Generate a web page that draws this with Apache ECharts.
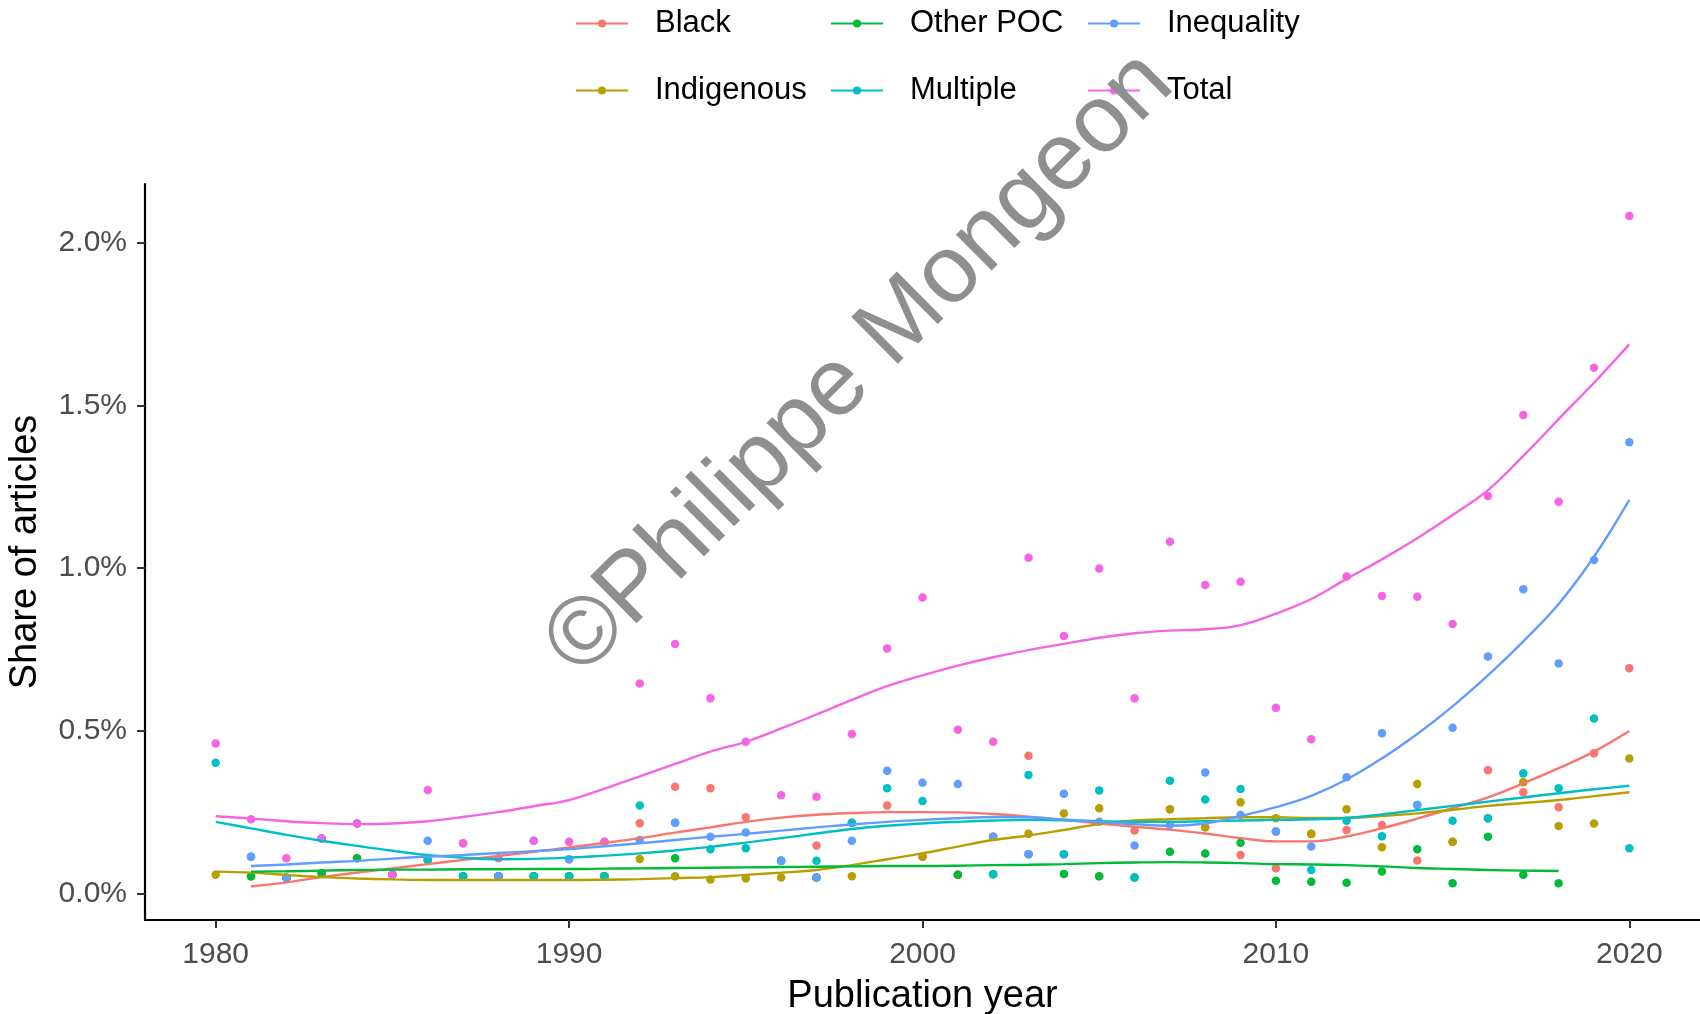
<!DOCTYPE html>
<html><head><meta charset="utf-8">
<script src="https://cdn.jsdelivr.net/npm/echarts@6/dist/echarts.min.js"></script>
<style>html,body{margin:0;padding:0;background:#fff}#c{width:1700px;height:1014px}</style>
</head><body><div id="c"></div>
<script>
// Share of articles (%) by publication year
const years = [1980,1981,1982,1983,1984,1985,1986,1987,1988,1989,1990,1991,1992,1993,1994,1995,1996,1997,1998,1999,2000,2001,2002,2003,2004,2005,2006,2007,2008,2009,2010,2011,2012,2013,2014,2015,2016,2017,2018,2019,2020];
const xTicks = [1980, 1990, 2000, 2010, 2020];
const yTicks = [0, 0.5, 1.0, 1.5, 2.0];

// observed points
const blackPts = [null,0.053,0.048,0.062,0.108,0.057,0.103,0.053,0.053,0.053,0.105,0.053,0.216,0.328,0.323,0.234,0.10,0.147,0.217,0.27,0.113,0.057,0.174,0.423,0.12,0.053,0.193,0.259,0.203,0.118,0.077,0.183,0.195,0.21,0.101,0.159,0.379,0.311,0.265,0.431,0.692];
const indigenousPts = [0.057,0.053,0.048,0.062,null,0.057,null,0.053,0.053,0.053,0.053,0.053,0.106,0.053,0.043,0.046,0.049,0.049,0.053,null,0.113,0.057,0.174,0.183,0.246,0.262,null,0.259,0.203,0.28,0.231,0.183,0.259,0.142,0.336,0.159,0.231,0.342,0.207,0.215,0.415];
const otherPocPts = [null,0.053,0.048,0.062,0.108,0.057,0.103,0.053,0.053,0.053,0.053,0.053,null,0.108,null,null,0.10,0.049,null,null,null,0.057,0.059,0.12,0.06,0.053,0.049,0.128,0.123,0.156,0.039,0.036,0.033,0.067,0.136,0.031,0.174,0.057,0.031,null,null];
const multiplePts = [0.402,0.113,0.048,0.169,0.215,0.057,0.103,0.053,0.053,0.053,0.053,0.053,0.27,0.217,0.136,0.139,0.10,0.10,0.217,0.323,0.284,null,0.059,0.364,0.12,0.316,0.049,0.346,0.289,0.321,0.19,0.072,0.223,0.176,0.272,0.223,0.231,0.369,0.323,0.538,0.139];
const inequalityPts = [null,0.113,0.048,0.169,0.215,0.057,0.162,0.154,0.053,0.162,0.105,0.159,0.164,0.217,0.174,0.187,0.10,0.049,0.162,0.377,0.34,0.336,0.174,0.12,0.306,0.22,0.147,0.21,0.372,0.241,0.19,0.144,0.357,0.492,0.272,0.509,0.728,0.935,0.707,1.025,1.387];
const totalPts = [0.461,0.228,0.108,0.169,0.215,0.057,0.318,0.154,0.108,0.162,0.159,0.159,0.645,0.767,0.60,0.466,0.302,0.297,0.49,0.753,0.91,0.503,0.466,1.032,0.791,0.999,0.60,1.081,0.948,0.958,0.571,0.474,0.974,0.914,0.912,0.828,1.222,1.471,1.204,1.616,2.083];

// smoothed trend lines
const blackFit = [null,0.021,0.034,0.05,0.064,0.077,0.09,0.103,0.115,0.128,0.141,0.155,0.17,0.187,0.203,0.22,0.233,0.242,0.247,0.25,0.25,0.249,0.244,0.236,0.226,0.215,0.205,0.196,0.184,0.17,0.16,0.16,0.175,0.2,0.23,0.262,0.295,0.338,0.385,0.436,0.499];
const indigenousFit = [0.067,0.064,0.057,0.05,0.046,0.043,0.041,0.041,0.041,0.041,0.041,0.042,0.044,0.047,0.05,0.057,0.064,0.072,0.087,0.105,0.123,0.144,0.164,0.178,0.195,0.213,0.224,0.228,0.231,0.234,0.234,0.232,0.232,0.238,0.246,0.257,0.269,0.278,0.287,0.299,0.311];
const otherPocFit = [null,0.067,0.068,0.07,0.072,0.073,0.073,0.074,0.074,0.075,0.075,0.076,0.077,0.078,0.079,0.08,0.081,0.082,0.083,0.084,0.084,0.085,0.087,0.088,0.09,0.093,0.095,0.096,0.095,0.093,0.09,0.089,0.087,0.083,0.078,0.075,0.072,0.07,0.069,null,null];
const multipleFit = [0.22,0.2,0.18,0.162,0.146,0.131,0.118,0.11,0.105,0.106,0.11,0.116,0.123,0.132,0.143,0.156,0.17,0.184,0.198,0.208,0.215,0.22,0.224,0.226,0.225,0.222,0.22,0.22,0.222,0.224,0.226,0.228,0.232,0.243,0.256,0.269,0.282,0.295,0.308,0.32,0.331];
const inequalityFit = [null,0.084,0.089,0.095,0.1,0.107,0.113,0.118,0.124,0.13,0.136,0.145,0.154,0.164,0.174,0.183,0.193,0.203,0.212,0.22,0.226,0.231,0.235,0.234,0.227,0.22,0.213,0.208,0.215,0.238,0.265,0.30,0.35,0.415,0.49,0.575,0.67,0.775,0.89,1.035,1.21];
const totalFit = [0.237,0.23,0.222,0.216,0.213,0.215,0.222,0.235,0.25,0.268,0.287,0.322,0.36,0.398,0.436,0.466,0.507,0.55,0.595,0.637,0.67,0.70,0.726,0.748,0.767,0.786,0.80,0.808,0.812,0.825,0.86,0.905,0.967,1.027,1.092,1.163,1.24,1.345,1.458,1.57,1.688];

const seriesDefs = [
  {name:'Black', color:'#F8766D', pts:blackPts, fit:blackFit},
  {name:'Indigenous', color:'#B79F00', pts:indigenousPts, fit:indigenousFit},
  {name:'Other POC', color:'#00BA38', pts:otherPocPts, fit:otherPocFit},
  {name:'Multiple', color:'#00BFC4', pts:multiplePts, fit:multipleFit},
  {name:'Inequality', color:'#619CFF', pts:inequalityPts, fit:inequalityFit},
  {name:'Total', color:'#F564E3', pts:totalPts, fit:totalFit}
];

const toPairs = arr => years.map((y,i) => arr[i] == null ? null : [y, arr[i]]).filter(d => d);

const series = [];
seriesDefs.forEach((s, k) => {
  series.push({
    name: s.name, type: 'line', smooth: 0.4, showSymbol: false, symbol: 'circle', symbolSize: 7,
    data: toPairs(s.fit), z: 3 + k * 0.01,
    itemStyle: {color: s.color}, lineStyle: {color: s.color, width: 2.4}, silent: true
  });
});
seriesDefs.forEach((s, k) => {
  series.push({
    name: s.name, type: 'scatter', symbol: 'circle', symbolSize: 8.5,
    data: toPairs(s.pts), z: 2 + k * 0.01,
    itemStyle: {color: s.color, opacity: 1}, silent: true
  });
});

const FONT = '"Liberation Sans", Arial, sans-serif';
const legendPos = [
  {name:'Black', left:575, top:8},
  {name:'Other POC', left:830, top:8},
  {name:'Inequality', left:1087, top:8},
  {name:'Indigenous', left:575, top:75},
  {name:'Multiple', left:830, top:75},
  {name:'Total', left:1087, top:75}
];
const legends = legendPos.map(l => ({
  data: [l.name], left: l.left, top: l.top, orient: 'horizontal',
  itemWidth: 52, itemHeight: 10, padding: 0, selectedMode: false,
  textStyle: {fontFamily: FONT, fontSize: 31, color: '#000', padding: [0, 0, 0, 22]}
}));

const chart = echarts.init(document.getElementById('c'), null, {renderer: 'canvas'});
chart.setOption({
  animation: false,
  backgroundColor: '#fff',
  legend: legends,
  grid: {left: 145, right: 0, top: 184, bottom: 94, containLabel: false, outerBoundsMode: 'none'},
  xAxis: {
    type: 'value', min: 1978, max: 2022,
    name: 'Publication year', nameLocation: 'middle', nameGap: 58,
    nameTextStyle: {fontFamily: FONT, fontSize: 38, color: '#000'},
    axisLine: {onZero: false, lineStyle: {color: '#000', width: 2.2}},
    axisTick: {customValues: xTicks, length: 8, lineStyle: {color: '#333', width: 2}},
    axisLabel: {customValues: xTicks, margin: 20, fontFamily: FONT, fontSize: 30, color: '#4D4D4D', formatter: v => String(v)},
    splitLine: {show: false}
  },
  yAxis: {
    type: 'value', min: -0.0818, max: 2.181,
    name: 'Share of articles', nameLocation: 'middle', nameGap: 100, nameRotate: 90,
    nameTextStyle: {fontFamily: FONT, fontSize: 38, color: '#000'},
    axisLine: {show: true, onZero: false, lineStyle: {color: '#000', width: 2.2}},
    axisTick: {show: true, customValues: yTicks, length: 8, lineStyle: {color: '#333', width: 2}},
    axisLabel: {customValues: yTicks, margin: 18, fontFamily: FONT, fontSize: 30, color: '#4D4D4D', formatter: v => v.toFixed(1) + '%'},
    splitLine: {show: false}
  },
  graphic: [{
    type: 'text', x: 860, y: 364, rotation: 44.8 * Math.PI / 180, z: 100, silent: true,
    style: {text: '©Philippe Mongeon', fontFamily: FONT, fontSize: 96, fill: '#8f8f8f', textAlign: 'center', textVerticalAlign: 'middle'}
  }],
  series: series
});
</script>
</body></html>
